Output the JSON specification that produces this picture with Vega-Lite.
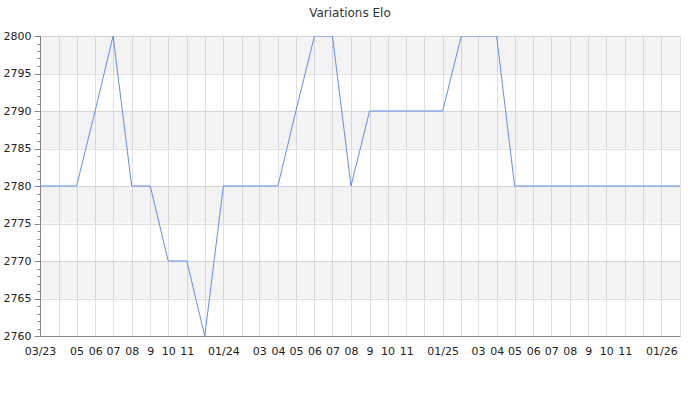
{
  "$schema": "https://vega.github.io/schema/vega-lite/v6.json",
  "width": 640,
  "height": 300,
  "autosize": "none",
  "padding": {"left": 40, "top": 36, "right": 20, "bottom": 64},
  "background": "white",
  "title": {"text": "Variations Elo", "font": "DejaVu Sans", "fontSize": 12, "fontWeight": "normal", "color": "#333333", "anchor": "middle", "dx": -10, "offset": 10, "baseline": "top"},
  "config": {"view": {"stroke": null}, "font": "DejaVu Sans"},
  "layer": [
    {
      "data": {"values": [
        {"lo": 2795, "hi": 2800},
        {"lo": 2785, "hi": 2790},
        {"lo": 2775, "hi": 2780},
        {"lo": 2765, "hi": 2770}
      ]},
      "mark": {"type": "rect", "color": "#000000", "opacity": 0.048},
      "encoding": {
        "y": {"field": "lo", "type": "quantitative", "scale": {"domain": [2760, 2800], "nice": false, "zero": false},
          "axis": {"orient": "left", "values": [2760,2761,2762,2763,2764,2765,2766,2767,2768,2769,2770,2771,2772,2773,2774,2775,2776,2777,2778,2779,2780,2781,2782,2783,2784,2785,2786,2787,2788,2789,2790,2791,2792,2793,2794,2795,2796,2797,2798,2799,2800], "labels": false, "grid": false, "domain": false, "tickSize": 3, "tickColor": "#888888", "title": null}},
        "y2": {"field": "hi"}
      }
    },
    {
      "data": {"values": [
        {"date": "2023-03-01", "elo": 2780},
        {"date": "2023-04-01", "elo": 2780},
        {"date": "2023-05-01", "elo": 2780},
        {"date": "2023-06-01", "elo": 2790},
        {"date": "2023-07-01", "elo": 2800},
        {"date": "2023-08-01", "elo": 2780},
        {"date": "2023-09-01", "elo": 2780},
        {"date": "2023-10-01", "elo": 2770},
        {"date": "2023-11-01", "elo": 2770},
        {"date": "2023-12-01", "elo": 2760},
        {"date": "2024-01-01", "elo": 2780},
        {"date": "2024-02-01", "elo": 2780},
        {"date": "2024-03-01", "elo": 2780},
        {"date": "2024-04-01", "elo": 2780},
        {"date": "2024-05-01", "elo": 2790},
        {"date": "2024-06-01", "elo": 2800},
        {"date": "2024-07-01", "elo": 2800},
        {"date": "2024-08-01", "elo": 2780},
        {"date": "2024-09-01", "elo": 2790},
        {"date": "2024-10-01", "elo": 2790},
        {"date": "2024-11-01", "elo": 2790},
        {"date": "2024-12-01", "elo": 2790},
        {"date": "2025-01-01", "elo": 2790},
        {"date": "2025-02-01", "elo": 2800},
        {"date": "2025-03-01", "elo": 2800},
        {"date": "2025-04-01", "elo": 2800},
        {"date": "2025-05-01", "elo": 2780},
        {"date": "2025-06-01", "elo": 2780},
        {"date": "2025-07-01", "elo": 2780},
        {"date": "2025-08-01", "elo": 2780},
        {"date": "2025-09-01", "elo": 2780},
        {"date": "2025-10-01", "elo": 2780},
        {"date": "2025-11-01", "elo": 2780},
        {"date": "2025-12-01", "elo": 2780},
        {"date": "2026-01-01", "elo": 2780},
        {"date": "2026-02-01", "elo": 2780}
      ]},
      "mark": {"type": "line", "color": "#5f8ff0", "strokeWidth": 1, "clip": true},
      "encoding": {
        "x": {"field": "date", "type": "temporal",
          "scale": {"type": "utc", "domain": ["2023-03-01", "2026-02-01"], "nice": false},
          "axis": {"title": null, "tickCount": {"interval": "month", "step": 1}, "grid": true, "gridColor": "#e0e0e0", "gridWidth": 1, "ticks": false, "domain": true, "domainColor": "#888888", "labelFont": "DejaVu Sans", "labelFontSize": 11, "labelColor": "#222222", "labelPadding": 9, "labelOverlap": false, "labelFlush": false,
            "labelExpr": "utcmonth(datum.value)==0 ? utcFormat(datum.value,'%m/%y') : (utcyear(datum.value)==2023 && utcmonth(datum.value)==2) ? '03/23' : (utcmonth(datum.value)==1 || utcmonth(datum.value)==11 || (utcyear(datum.value)==2023 && utcmonth(datum.value)==3)) ? '' : utcmonth(datum.value)==8 ? '9' : utcFormat(datum.value,'%m')"}},
        "y": {"field": "elo", "type": "quantitative", "scale": {"domain": [2760, 2800], "nice": false, "zero": false},
          "axis": {"orient": "left", "title": null, "format": "d", "values": [2760, 2765, 2770, 2775, 2780, 2785, 2790, 2795, 2800], "grid": true, "gridColor": "#e0e0e0", "gridWidth": 1, "tickSize": 6, "tickColor": "#888888", "domain": true, "domainColor": "#888888", "labelFont": "DejaVu Sans", "labelFontSize": 11, "labelColor": "#222222", "labelPadding": 3}}
      }
    }
  ],
  "resolve": {"axis": {"y": "independent"}}
}
